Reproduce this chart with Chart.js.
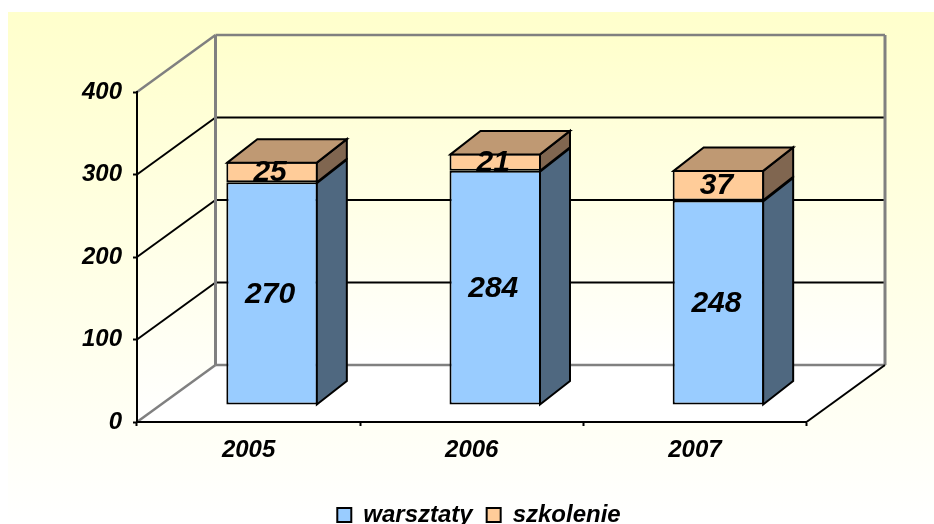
<!DOCTYPE html>
<html>
<head>
<meta charset="utf-8">
<style>html,body{margin:0;padding:0;background:#fff}canvas{display:block}</style>
<script src="https://cdn.jsdelivr.net/npm/chart.js@4"></script>
</head>
<body>
<canvas id="c" width="934" height="524"></canvas>
<script>
const categories = ['2005', '2006', '2007'];
const warsztaty = [270, 284, 248];
const szkolenie = [25, 21, 37];
const yTicks = [0, 100, 200, 300, 400];

const FONT = '"Liberation Sans", Arial, sans-serif';
const WALL = { dx: 78.5, dy: -57 };   // depth of the whole 3D box
const SHIFT = { dx: 23.5, dy: -17 };  // bar front face, set back from the front plane
const BAR = { dx: 30, dy: -23.5 };    // depth of a bar
const YELLOW = '#FFFFCC';

function poly(ctx, pts, fill, stroke, lw) {
  ctx.beginPath();
  pts.forEach((p, i) => i ? ctx.lineTo(p[0], p[1]) : ctx.moveTo(p[0], p[1]));
  ctx.closePath();
  if (fill) { ctx.fillStyle = fill; ctx.fill(); }
  if (stroke) { ctx.strokeStyle = stroke; ctx.lineWidth = lw; ctx.lineJoin = 'miter'; ctx.stroke(); }
}
function seg(ctx, x1, y1, x2, y2, color, lw) {
  ctx.beginPath(); ctx.moveTo(x1, y1); ctx.lineTo(x2, y2);
  ctx.strokeStyle = color; ctx.lineWidth = lw; ctx.stroke();
}

const box3d = {
  id: 'box3d',
  afterLayout(chart) {
    const l = chart.legend;
    const shift = 479 - (l.left + l.right) / 2;
    l.left += shift; l.right += shift;
    const h = l.bottom - l.top;
    l.top = 489; l.bottom = 489 + h;
  },
  beforeDraw(chart) {
    const ctx = chart.ctx, a = chart.chartArea;
    const y = chart.scales.y;
    const L = a.left, R = a.right, T = y.getPixelForValue(400), B = y.getPixelForValue(0);
    const bL = L + WALL.dx, bR = R + WALL.dx, bT = T + WALL.dy, bB = B + WALL.dy;
    ctx.save();
    // outer background
    let g = ctx.createLinearGradient(0, 12, 0, chart.height);
    g.addColorStop(0, YELLOW); g.addColorStop(1, '#FFFFFF');
    ctx.fillStyle = g; ctx.fillRect(8, 12, chart.width - 8, chart.height - 12);
    // back wall
    g = ctx.createLinearGradient(0, bT, 0, bB);
    g.addColorStop(0, YELLOW); g.addColorStop(1, '#FFFFFF');
    poly(ctx, [[bL, bT], [bR, bT], [bR, bB], [bL, bB]], g);
    // left wall
    g = ctx.createLinearGradient(0, bT, 0, B);
    g.addColorStop(0, YELLOW); g.addColorStop(1, '#FFFFFF');
    poly(ctx, [[L, T], [bL, bT], [bL, bB], [L, B]], g);
    // floor
    poly(ctx, [[L, B], [bL, bB], [bR, bB], [R, B]], '#FFFFFF');
    // gridlines on walls
    yTicks.slice(1, -1).forEach(v => {
      const p = y.getPixelForValue(v);
      seg(ctx, L, p, bL, p + WALL.dy, '#000', 2);
      seg(ctx, bL, p + WALL.dy, bR, p + WALL.dy, '#000', 2);
    });
    // wall frame
    const grey = '#808080';
    seg(ctx, L, T, bL, bT, grey, 2.5);
    seg(ctx, bL, bT, bR, bT, grey, 2.5);
    seg(ctx, bL, bT, bL, bB, grey, 3);
    seg(ctx, bR, bT, bR, bB, grey, 3);
    seg(ctx, bL, bB, bR, bB, grey, 2.5);
    seg(ctx, L, B, bL, bB, grey, 2.5);
    seg(ctx, R, B, bR, bB, '#000', 2);
    ctx.restore();
  },
  beforeDatasetsDraw(chart) {
    chart.ctx.save();
    chart.ctx.translate(SHIFT.dx, SHIFT.dy);
  },
  afterDatasetsDraw(chart) {
    const ctx = chart.ctx;
    const sideColors = ['#4F6880', '#806650'];
    const topColor = '#BF9973';
    chart.data.datasets.forEach((ds, di) => {
      chart.getDatasetMeta(di).data.forEach(bar => {
        const p = bar.getProps(['x', 'y', 'base', 'width'], true);
        const r = p.x + p.width / 2 - 1, l = p.x - p.width / 2 + 1;
        const t = p.y + 1, b = p.base;
        poly(ctx, [[r, t], [r + BAR.dx, t + BAR.dy], [r + BAR.dx, b + BAR.dy], [r, b]], sideColors[di], '#000', 2);
        if (di === chart.data.datasets.length - 1) {
          poly(ctx, [[l, t], [l + BAR.dx, t + BAR.dy], [r + BAR.dx, t + BAR.dy], [r, t]], topColor, '#000', 2);
        }
      });
    });
    // value labels
    ctx.fillStyle = '#000';
    ctx.font = 'italic bold 30px ' + FONT;
    ctx.textAlign = 'center';
    ctx.textBaseline = 'middle';
    chart.data.datasets.forEach((ds, di) => {
      chart.getDatasetMeta(di).data.forEach((bar, i) => {
        const p = bar.getProps(['x', 'y', 'base'], true);
        ctx.fillText(String(ds.data[i]), p.x - 2, (p.y + p.base) / 2 + 1);
      });
    });
    ctx.restore();
  }
};

new Chart(document.getElementById('c'), {
  type: 'bar',
  plugins: [box3d],
  data: {
    labels: categories,
    datasets: [
      { label: 'warsztaty', data: warsztaty, backgroundColor: '#99CCFF', borderColor: '#000', borderWidth: 2, borderSkipped: false, clip: false },
      { label: 'szkolenie', data: szkolenie, backgroundColor: '#FFCC99', borderColor: '#000', borderWidth: 2, borderSkipped: false, clip: false }
    ]
  },
  options: {
    responsive: false,
    animation: false,
    devicePixelRatio: 1,
    barPercentage: 0.41,
    categoryPercentage: 1,
    layout: { autoPadding: false, padding: { left: 20, right: 127.5, top: 92, bottom: 14 } },
    font: { family: FONT },
    plugins: {
      title: { display: false },
      tooltip: { enabled: false },
      legend: {
        position: 'bottom',
        fullSize: false,
        labels: {
          boxWidth: 14, boxHeight: 14, padding: 14, color: '#000',
          font: { family: FONT, size: 24, style: 'italic', weight: 'bold' }
        }
      }
    },
    scales: {
      x: {
        stacked: true,
        afterFit(s) { s.height = 40; },
        grid: { drawOnChartArea: false, drawTicks: true, tickLength: 4, tickWidth: 2, tickColor: '#000' },
        border: { color: '#000', width: 2 },
        ticks: { padding: 10, color: '#000', maxRotation: 0, font: { family: FONT, size: 24, style: 'italic', weight: 'bold' } }
      },
      y: {
        stacked: true,
        min: 0, max: 400,
        afterFit(s) { s.width = 117; },
        afterBuildTicks(s) { s.ticks = yTicks.map(v => ({ value: v })); },
        grid: { drawOnChartArea: false, drawTicks: true, tickLength: 4, tickWidth: 2, tickColor: '#000' },
        border: { color: '#000', width: 2 },
        ticks: { padding: 11, color: '#000', font: { family: FONT, size: 24, style: 'italic', weight: 'bold' } }
      }
    }
  }
});
</script>
</body>
</html>
